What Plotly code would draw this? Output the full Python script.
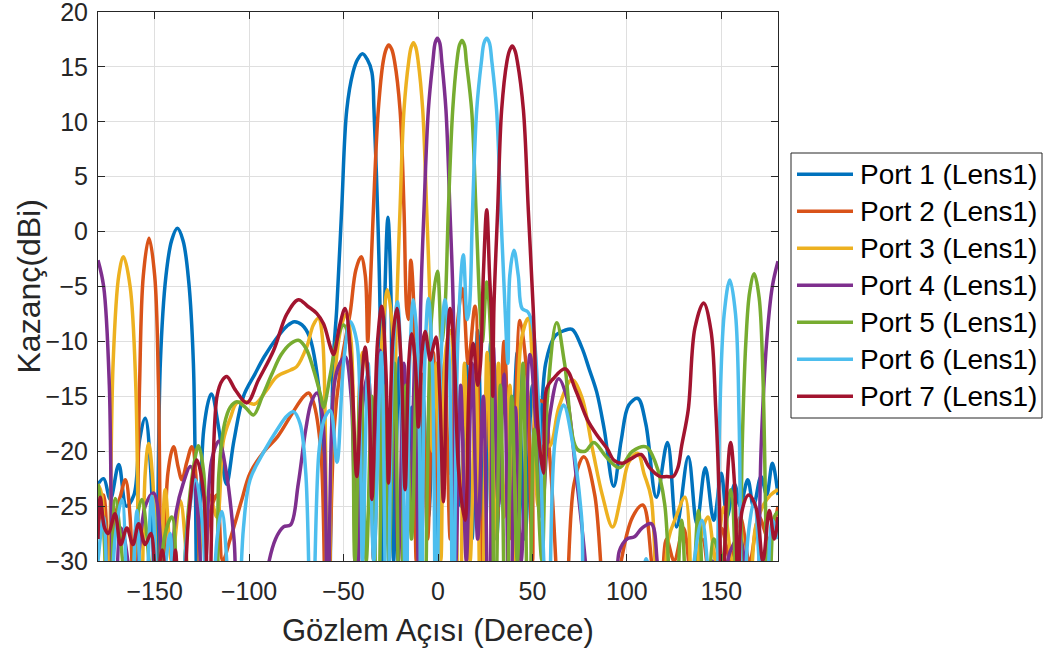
import plotly.graph_objects as go

# ---- data (angle in degrees, gain in dBi) ----
port1_angle = [-180,-177,-173.5,-169,-165,-161,-158,-155,-152,-149.5,-147,-144,-141,-138,-135,-132,-129.5,-127,-124,-120,-116,-112,-108,-103,-97,-92,-85,-80,-76,-72,-68,-64,-60.5,-58,-55.5,-53.6,-51,-48.3,-45,-42.5,-40,-37.5,-35,-33.9,-32,-30.7,-29.5,-28,-26.5,-25,-23.5,-20.5,-17.5,-14,-11,-8,-5,-2,0.5,3,6,9,12,15,18,21,24.5,28,31,35,38,42,46,50,53,57,62,67,71,76,80,84,88,93,97,101,105.8,110,115.6,121.5,126.3,132.5,137,141.5,146,150,153,157,160,164,167,171,174,177,180]
port1_gain = [-23,-22.5,-24.4,-21.2,-25,-24,-19,-17,-22,-40,-12,-4,-0.8,0.3,-0.8,-4.5,-12,-40,-18,-14.8,-18,-23,-19,-15,-13,-11.4,-9.6,-8.6,-8.2,-8.5,-9.6,-13,-20,-40,-12,-7,2,11.1,14.5,15.7,16.2,15.7,14.5,11.1,2,-7,-30,-5,1.3,-5,-30,-11.5,-30,-16,-27,-15,-26,-14,-30,-14,-22,-13,-25,-12,-28,-9,-30,-10,-28,-11,-27,-11,-28,-14,-22,-12,-9.5,-9,-8.9,-10.5,-12.5,-14.6,-18,-23.2,-19,-15.8,-15.2,-17.5,-24.2,-19.2,-26.9,-20.5,-26.6,-21.5,-26.3,-22,-26,-23,-25,-22.6,-25,-22.3,-24,-21.1,-24]

port2_angle = [-180,-177,-174,-171,-168,-165.5,-163,-160.5,-158,-156,-153,-150,-148,-146,-143,-140,-137.5,-135.6,-133,-130.3,-127.5,-125,-121,-117,-114,-110,-104,-99.5,-92,-85,-77,-71,-68.5,-66,-62,-59,-55,-51.8,-46.5,-43.5,-40.7,-38.5,-37.2,-36.3,-34.2,-31.6,-29,-27.5,-26.1,-24.5,-23,-20.1,-18,-16.6,-15.7,-14.4,-13,-11.5,-8.5,-5.5,-2.5,0.5,3.5,6.5,9.5,13,16,19.6,23,27,31,35,39,43.4,47,50,53,55.8,59.3,66.5,72,77.2,83,90.6,97,103,108.4,113,117,121,125,130,135,140,145,150,155,160,165,170,175,180]
port2_gain = [-27,-24,-30,-26,-24,-22.6,-26,-40,-14,-4,-0.6,-4,-14,-40,-22,-19.6,-21.5,-22.6,-21,-19.6,-24,-40,-26,-24,-30,-28,-24.5,-22,-20,-18.7,-16.5,-15,-14.7,-15.5,-20,-40,-18,-12.6,-7.4,-3.5,-2.3,-4,-10,-7,2,11.1,15.5,16.6,17,16.6,15.5,11.1,2,-7,-8,-2.6,-6,-30,-13,-28,-11,-26,-12,-28,-10,-5.2,-12,-6.8,-30,-12,-27,-10,-28,-8.1,-13,-30,-15.5,-15.5,-20.8,-40,-23,-20.5,-24,-40,-30,-26,-24.9,-30,-40,-28,-30,-27,-33,-28,-33,-27,-30,-26,-30,-26,-28,-25]

port3_angle = [-180,-178,-175,-172,-169,-166.5,-163,-160,-157.6,-155,-153.2,-150.5,-148,-144.4,-141,-136.5,-133,-129,-125,-121,-117,-113.6,-110,-106.5,-102,-97,-91,-85.3,-78,-74.8,-69.5,-66,-63.3,-61,-58.5,-55,-51,-48.5,-46,-43.5,-40,-37,-34,-31,-28.8,-26.8,-24.5,-23,-21.9,-20.1,-18,-15.5,-14.2,-13,-11.8,-10.5,-8.1,-6,-4.2,-3,-1,1.5,4,6.4,9,11.5,14,17,20,23,26,29,32,35,38,41,44,47.8,50,53,56,59.3,64,70.9,76,82,87,92.4,97,101,105.8,109,112.9,117,122,126,130.8,135,139,143,147,151.3,156,160,164,168,172,176,180]
port3_gain = [-23,-24,-40,-12,-4,-2.3,-5,-14,-40,-22,-19.3,-24,-40,-23.5,-30,-24.5,-30,-40,-27,-24,-26,-19,-17,-15.6,-15.5,-15.7,-14.5,-13.2,-12.6,-12.3,-10.5,-8.5,-7.9,-10,-40,-14,-8.5,-7.5,-10,-30,-11,-13,-30,-14,-8,-5.3,-8,-15,-7,2,11.1,15.5,16.8,17.2,16.8,15.5,11.1,2,-7,-20,-12,-30,-11,-9,-20,-40,-12,-30,-13,-40,-11,-30,-12,-26,-14,-30,-10,-7.9,-12,-25,-19.5,-19.5,-16,-13.5,-15,-20,-24,-26.9,-24,-21,-20.2,-22,-24.3,-40,-28,-26,-24.2,-40,-28,-26,-30,-25.1,-30,-27,-40,-27,-25,-24,-23.5]

port4_angle = [-180,-177,-174,-171.7,-168,-166,-161,-155,-150.6,-146,-143,-139,-135,-131,-127,-124,-120,-116,-112,-108,-103,-97,-90.6,-86,-81.8,-78,-74,-70,-67,-64,-61,-58.5,-55,-52,-49.2,-46,-43,-40,-37,-34,-30.6,-27,-24,-21,-18,-15,-12,-10.5,-9.2,-7.4,-5.1,-2.7,-1.5,-0.35,0.9,2,4.2,6.3,8.1,9.5,12,15,18,21,24,27,29.3,32,35,38,41,44,48.7,52,54.9,59,63.8,68,73,78,82.5,88,92,96,100,104,108,112.9,116,118,125,130,135,140,145,150,155,159.3,163,168.3,171,174,177,180]
port4_gain = [-2.6,-5,-14,-40,-27,-28,-33,-25,-23.8,-30,-40,-26,-23,-21.4,-26,-40,-21,-19.1,-22,-28,-40,-40,-31,-28,-26.9,-26.7,-23,-18,-15.5,-14.7,-17,-40,-14,-12,-11.4,-15,-40,-16,-13,-30,-10.8,-25,-13,-30,-12,-25,-11,-30,-7,2,11.1,15.5,17.2,17.6,17.2,15.5,11.1,2,-7,-30,-14,-30,-12,-28,-15,-40,-10.5,-25,-13,-40,-16,-30,-11.2,-18,-26,-17,-13.4,-15,-22,-30,-40,-40,-40,-29.1,-28,-27.8,-27,-26.6,-30,-40,-32,-33,-40,-32,-30,-32,-29,-27.8,-31,-40,-20,-10,-5,-2.7]

port5_angle = [-180,-177,-174,-170.9,-167,-163,-160,-156.8,-153,-149,-145,-140.9,-137,-133,-129,-126.8,-124,-121,-119,-116,-113,-110,-106.5,-102,-97.7,-93,-88,-83,-78,-73.9,-70,-66,-62,-60.6,-57,-53.6,-50,-47,-44,-41,-38,-35,-32,-29,-26,-23,-20,-17,-14,-11,-7.5,-3.5,-0.3,2,3.7,5.5,7.8,10,11.4,12.7,14,15,17.8,20.1,22.2,23.5,25.8,28,30,33,36,39,42,45,48,51,55,58,62.9,67,73.6,78,82.5,89,96,103,110.2,115,120,124.5,129,133,137.9,142,146,150,154.9,159.3,161,163,165,167.4,170,172,175.4,178,180]
port5_gain = [-23,-27,-40,-24.3,-30,-40,-27,-24.4,-30,-40,-28,-26,-40,-27,-21,-19.5,-22,-40,-40,-22,-17.5,-16,-15.5,-16,-16.7,-15,-13,-11.2,-10.2,-9.9,-10.6,-12.5,-15,-16,-13,-9.9,-8.5,-10,-30,-13,-30,-15,-40,-14,-30,-12,-40,-14,-28,-11,-40,-8,-3.6,-10,-7,2,11.1,15.5,17,17.4,17,15.5,11.1,2,-7,-10,-4.6,-10,-40,-14,-40,-15,-30,-12,-40,-18,-30,-15,-8.3,-12,-19.8,-20,-19.2,-20.5,-21.5,-20,-19.6,-21,-24.8,-40,-26.3,-40,-25.4,-40,-28,-30,-23.5,-40,-20,-10,-5.5,-3.85,-6,-13,-40,-26,-25.5]

port6_angle = [-180,-177,-174,-171,-167.3,-163.5,-159.4,-156,-151.5,-147,-144,-141.8,-139,-132,-128.5,-125,-121,-117,-114.4,-111,-107,-103,-99.5,-92,-85,-80,-76.5,-73,-70,-66.8,-63,-60,-57,-53.5,-50,-46.5,-43,-41,-40,-37,-34,-30,-27,-24,-21.5,-18.5,-17,-15,-13,-10.5,-9,-7,-5.1,-3,-1,1.5,3.7,6,8,10.5,13.4,15.5,16.6,18.3,20.5,23,24.4,25.8,27.2,28.5,31,33.2,35.5,37,38,40.2,42.5,44.5,47.5,50,53,56,58.4,62,66.5,71,76,80,86,95,105,108,110.2,112.5,115,122,125,128,134,139.7,143,146.8,149,151.5,154.5,157.5,159.5,161,164,167.4,170,173,177,180]
port6_gain = [-30,-26,-40,-28,-24.4,-40,-25.4,-40,-24.1,-40,-30,-27.5,-40,-26,-22.6,-26,-40,-28,-25.5,-32,-40,-27,-22.6,-20,-18,-16.8,-16.4,-17.5,-22,-40,-20,-17,-16.3,-21,-12,-8.2,-10,-20,-30,-12,-30,-11,-40,-12,-6.4,-20,-40,-12,-6.2,-12,-40,-12,-6.1,-12,-40,-12,-6.2,-12,-40,-10,-2.1,-8,-7,2,11.1,15.5,17.2,17.6,17.2,15.5,11.1,2,-7,-12,-4,-1.7,-4,-7,-7.3,-8.5,-15,-30,-40,-19,-15.8,-19,-26,-40,-40,-40,-35,-32,-29.8,-32,-40,-40,-30.5,-40,-32,-26.3,-31,-40,-18,-7.5,-4.4,-7.5,-18,-40,-28,-24.5,-30,-40,-26.3,-28]

port7_angle = [-180,-178.8,-176.5,-174.5,-171,-168,-164.7,-161.5,-158.5,-155,-152,-149,-146,-142,-139,-136,-132,-127.7,-124,-121.5,-117,-114,-111.8,-107,-101.2,-95,-87,-80,-73.9,-69,-64.2,-60.6,-57,-55.3,-52,-49.2,-46,-43,-40.5,-38.6,-36.5,-35,-32,-29.8,-27.5,-26.2,-24,-21.8,-19.5,-17.4,-15.5,-13.9,-12,-10.4,-8.5,-6.8,-5,-4.2,-2.5,-1,1,2.9,4.8,6.4,8.5,11,14.3,16.5,18.7,21,22.5,24,25.8,27.3,28.4,29,29.6,31.6,33.7,36.5,37.9,39.3,40.7,42,45.2,47.8,50.4,53,55.8,57.5,61,67.4,73,79,84,89.7,93,97.7,102,107.5,112,117.4,121,124.5,127,129,132.5,136,140.6,144.5,147,149,150.5,152.5,154.9,157,159,161,164.5,168.3,172,175.4,178,180]
port7_gain = [-28,-24.2,-27,-27.5,-25.7,-28.5,-27,-28.5,-26.6,-28.5,-27.5,-32,-29,-40,-29,-40,-26,-20.8,-24,-40,-15,-13.5,-13.2,-14.5,-15.6,-13.5,-10.8,-7.5,-6.2,-6.8,-7.45,-8.4,-10.5,-11.2,-8.5,-7,-12,-22.3,-14,-10.5,-15,-24.4,-10,-6.8,-13,-22.9,-10,-7,-12,-23.5,-12,-9.3,-12,-17.8,-11,-9.1,-11,-11.7,-10.5,-9.6,-15,-24.6,-11,-7,-11,-22,-26.3,-14,-10.2,-14,-12,-4,2,-4,-8,-15,-7,2,11.1,15.5,16.5,16.9,16.5,15.5,11.1,2,-7,-18,-22,-14.3,-13.4,-12.5,-14.5,-17.1,-18.5,-19.8,-20.8,-21.1,-20.7,-20.3,-21.5,-22.3,-22.3,-22.3,-21.5,-19.5,-16.2,-8.8,-6.5,-9,-16,-25,-40,-25,-19.2,-23,-33,-25.4,-24,-25.1,-30,-25.4,-28,-26]

series_names = ["Port 1 (Lens1)", "Port 2 (Lens1)", "Port 3 (Lens1)", "Port 4 (Lens1)",
                "Port 5 (Lens1)", "Port 6 (Lens1)", "Port 7 (Lens1)"]
series_colors = ["#0072BD", "#D95319", "#EDB120", "#7E2F8E", "#77AC30", "#4DBEEE", "#A2142F"]
x_ticks = [-150, -100, -50, 0, 50, 100, 150]
y_ticks = [-30, -25, -20, -15, -10, -5, 0, 5, 10, 15, 20]

angles = [port1_angle, port2_angle, port3_angle, port4_angle, port5_angle, port6_angle, port7_angle]
gains = [port1_gain, port2_gain, port3_gain, port4_gain, port5_gain, port6_gain, port7_gain]

W, H = 1045, 654
L, R, T, B = 98, 267, 12, 93
plot_w, plot_h = W - L - R, H - T - B
axis_color = "#262626"
font_family = "Liberation Sans, Arial, sans-serif"
LINE_W = 3.5


def px_x(px):
    return (px - L) / plot_w


def px_y(py):
    return 1 - (py - T) / plot_h


fig = go.Figure()
for name, color, a, g in zip(series_names, series_colors, angles, gains):
    fig.add_trace(go.Scatter(x=a, y=g, mode="lines", name=name, showlegend=False,
                             line=dict(color=color, width=LINE_W, shape="spline", smoothing=1.0)))

# legend box drawn as shapes + text (to match the long line samples of the reference)
shapes = [dict(type="rect", xref="paper", yref="paper",
               x0=px_x(791), x1=px_x(1042), y0=px_y(418), y1=px_y(153),
               line=dict(color=axis_color, width=1), fillcolor="white", layer="above")]
annotations = []
for i, (name, color) in enumerate(zip(series_names, series_colors)):
    row = 174.3 + 37.0 * i
    shapes.append(dict(type="line", xref="paper", yref="paper",
                       x0=px_x(797), x1=px_x(853), y0=px_y(row), y1=px_y(row),
                       line=dict(color=color, width=LINE_W), layer="above"))
    annotations.append(dict(text=name, xref="paper", yref="paper", x=px_x(858), y=px_y(row),
                            xanchor="left", yanchor="middle", showarrow=False,
                            font=dict(size=28, color="black", family=font_family)))

annotations += [
    dict(text="Gözlem Açısı (Derece)", xref="paper", yref="paper",
         x=0.5, y=px_y(630), xanchor="center", yanchor="middle",
         showarrow=False, font=dict(size=31, color=axis_color, family=font_family)),
    dict(text="Kazanç(dBi)", xref="paper", yref="paper",
         x=px_x(28), y=0.5, xanchor="center", yanchor="middle", textangle=-90,
         showarrow=False, font=dict(size=32, color=axis_color, family=font_family)),
]

fig.update_layout(
    width=W, height=H,
    margin=dict(l=L, r=R, t=T, b=B, autoexpand=False),
    paper_bgcolor="white", plot_bgcolor="white",
    font=dict(family=font_family, color=axis_color),
    showlegend=False,
    shapes=shapes,
    annotations=annotations,
)
common = dict(ticks="inside", ticklen=7, tickcolor=axis_color, showline=True,
              linecolor=axis_color, linewidth=1, mirror="ticks", showgrid=True,
              gridcolor="#dfdfdf", gridwidth=1, zeroline=False, automargin=False,
              ticklabeloverflow="allow", tickfont=dict(size=25, color=axis_color))
fig.update_xaxes(range=[-180, 180], tickvals=x_ticks, ticklabelstandoff=8, **common)
fig.update_yaxes(range=[-30, 20], tickvals=y_ticks, ticklabelstandoff=4, **common)

fig.write_html("out.html", config={"displayModeBar": False},
               post_script="document.body.style.margin='0px';")
